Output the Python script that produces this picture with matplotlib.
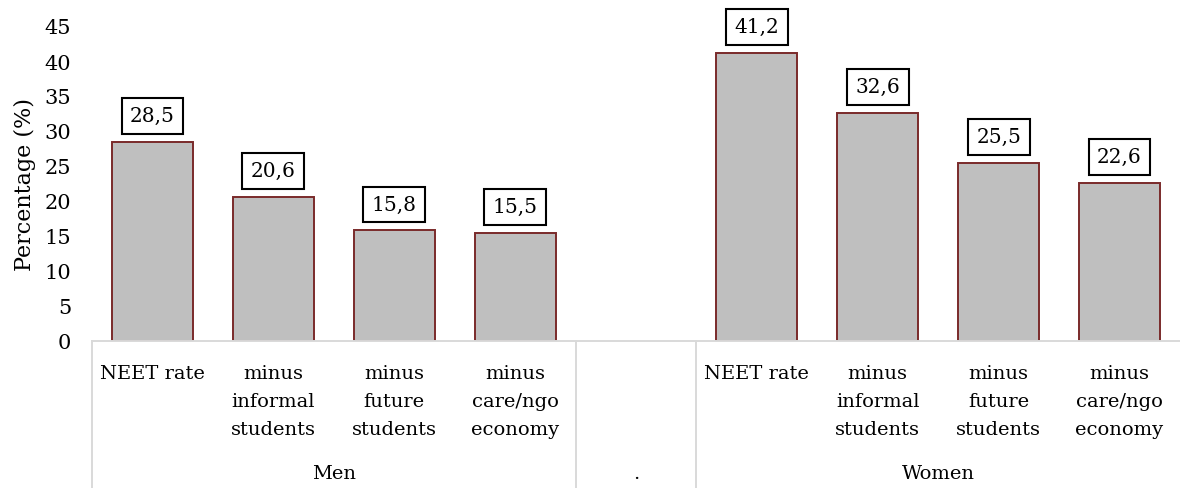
import numpy as np
import matplotlib.pyplot as plt

plt.rcParams['font.family'] = ['DejaVu Serif']

# data
categories = ["NEET rate", "minus\ninformal\nstudents", "minus\nfuture\nstudents", "minus\ncare/ngo\neconomy",
              "",
              "NEET rate", "minus\ninformal\nstudents", "minus\nfuture\nstudents", "minus\ncare/ngo\neconomy"]
values = [28.5, 20.6, 15.8, 15.5, None, 41.2, 32.6, 25.5, 22.6]
groups = ["Men", ".", "Women"]
group_spans = [(0, 3), (4, 4), (5, 8)]

fig = plt.figure(figsize=(11.8, 4.89), dpi=100)
ax = fig.add_axes([92 / 1180, 1 - 342 / 489, 1 - 92 / 1180, 315 / 489])

x = [i for i, v in enumerate(values) if v is not None]
y = [v for v in values if v is not None]

ax.bar(x, y, width=0.67, color="#BFBFBF", edgecolor="#7A2A2A", linewidth=1.4, zorder=2)

for xi, yi in zip(x, y):
    ax.text(xi, yi + 3.7, f"{yi:.1f}".replace(".", ","), ha="center", va="center",
            fontsize=14.5, color="black",
            bbox=dict(boxstyle="square,pad=0.42", facecolor="white", edgecolor="black", linewidth=1.5))

ax.set_xlim(-0.5, 8.5)
ax.set_ylim(0, 45)
ax.set_yticks(np.arange(0, 46, 5))
ax.tick_params(axis="y", length=0, pad=15, labelsize=15)
ax.set_xticks([])
ax.set_ylabel("Percentage (%)", fontsize=16, labelpad=6)

for s in ["top", "right", "left"]:
    ax.spines[s].set_visible(False)
ax.spines["bottom"].set_color("#D9D9D9")
ax.spines["bottom"].set_linewidth(1.4)

trans = ax.get_xaxis_transform()
# category labels
for i, lab in enumerate(categories):
    ax.text(i, -0.072, lab, transform=trans, ha="center", va="top",
            fontsize=14, linespacing=1.72)

# group labels and separators
for name, (a, b) in zip(groups, group_spans):
    ax.text((a + b) / 2, -0.42, name, transform=trans, ha="center", va="center", fontsize=14)
for bx in [-0.5, 3.5, 4.5]:
    ax.plot([bx, bx], [0, -0.47], transform=trans, color="#D9D9D9", linewidth=1.4, clip_on=False)

fig.savefig("out.png", dpi=100)
